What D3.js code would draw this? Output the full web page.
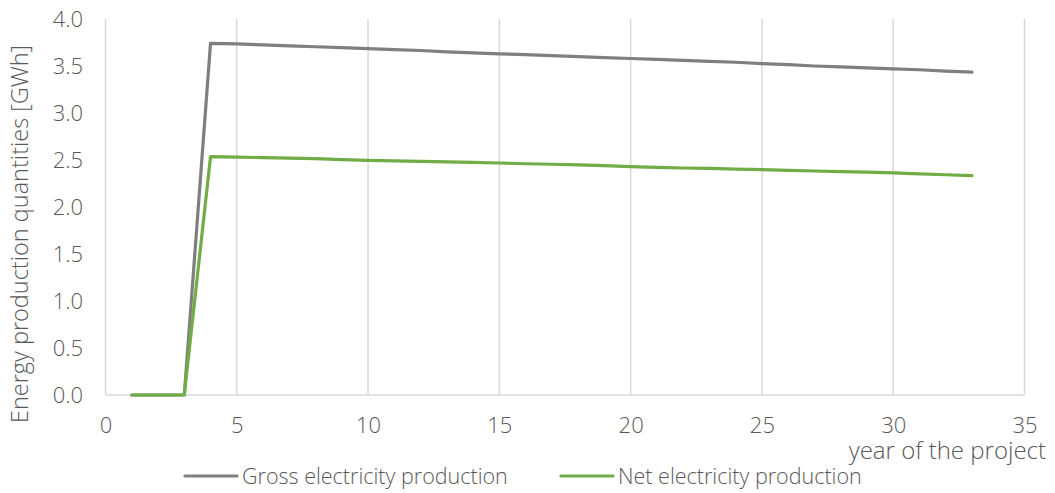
<!DOCTYPE html>
<html>
<head>
<meta charset="utf-8">
<script src="https://cdn.jsdelivr.net/npm/d3@7"></script>
<style>
  html, body { margin: 0; padding: 0; background: #fff; }
  svg text { font-family: "Open Sans", "Noto Sans", sans-serif; font-weight: 300; fill: #595959; }
</style>
</head>
<body>
<svg id="chart" width="1055" height="493"></svg>
<script>
const years = [1,2,3,4,5,6,7,8,9,10,11,12,13,14,15,16,17,18,19,20,21,22,23,24,25,26,27,28,29,30,31,32,33];
const gross = [0,0,0,3.74,3.735,3.725,3.715,3.705,3.695,3.685,3.675,3.665,3.65,3.64,3.63,3.62,3.61,3.60,3.59,3.58,3.57,3.56,3.55,3.54,3.525,3.515,3.50,3.49,3.48,3.47,3.46,3.445,3.435];
const net = [0,0,0,2.535,2.53,2.525,2.52,2.515,2.505,2.497,2.49,2.485,2.48,2.475,2.468,2.46,2.455,2.448,2.44,2.43,2.422,2.415,2.41,2.403,2.397,2.39,2.383,2.376,2.37,2.362,2.352,2.343,2.333];
const xTicks = [0,5,10,15,20,25,30,35];
const yTicks = [0,0.5,1.0,1.5,2.0,2.5,3.0,3.5,4.0];
const seriesNames = ["Gross electricity production", "Net electricity production"];
const seriesColors = ["#7f7f7f", "#70ad47"];

const svg = d3.select("#chart");
const x = d3.scaleLinear().domain([0, 35]).range([105.5, 1024.5]);
const y = d3.scaleLinear().domain([0, 4]).range([395, 19]);

// vertical gridlines
svg.append("g").selectAll("line").data(xTicks).join("line")
  .attr("x1", d => x(d)).attr("x2", d => x(d))
  .attr("y1", y(4)).attr("y2", y(0))
  .attr("stroke", "#d9d9d9").attr("stroke-width", 1.5);

// bottom axis line
svg.append("line").attr("x1", x(0)).attr("x2", x(35)).attr("y1", y(0)).attr("y2", y(0))
  .attr("stroke", "#d9d9d9").attr("stroke-width", 1.5);

// x axis tick labels
const xAxis = d3.axisBottom(x).tickValues(xTicks).tickSize(0).tickPadding(0).tickFormat(d3.format("d"));
const gx = svg.append("g").attr("transform", `translate(0,${y(0)})`).call(xAxis);
gx.select(".domain").remove();
gx.selectAll("text").attr("dy", null).attr("y", 38).style("font-size", "22px").attr("fill", "#595959");

// y axis tick labels
const yAxis = d3.axisLeft(y).tickValues(yTicks).tickSize(0).tickPadding(0).tickFormat(d3.format(".1f"));
const gy = svg.append("g").attr("transform", `translate(83,0)`).call(yAxis);
gy.select(".domain").remove();
gy.selectAll("text").attr("x", 0).attr("dy", "0.35em").style("font-size", "22px").attr("fill", "#595959");

// lines
const line = d3.line().x((d, i) => x(years[i])).y(d => y(d));
[gross, net].forEach((s, k) => {
  svg.append("path").datum(s).attr("d", line)
    .attr("fill", "none").attr("stroke", seriesColors[k]).attr("stroke-width", 3.2)
    .attr("stroke-linejoin", "round").attr("stroke-linecap", "round");
});

// y title
svg.append("text").attr("transform", `translate(28,234) rotate(-90)`)
  .attr("text-anchor", "middle").style("font-size", "23.5px")
  .text("Energy production quantities [GWh]");

// x title
svg.append("text").attr("x", 1046).attr("y", 459).attr("text-anchor", "end")
  .style("font-size", "24px").text("year of the project");

// legend
const legX = [185, 561];
seriesNames.forEach((n, k) => {
  svg.append("line").attr("x1", legX[k]).attr("x2", legX[k] + 52).attr("y1", 476).attr("y2", 476)
    .attr("stroke", seriesColors[k]).attr("stroke-width", 3.2).attr("stroke-linecap", "round");
  svg.append("text").attr("x", legX[k] + 57).attr("y", 476).attr("dy", "0.35em")
    .style("font-size", "21.5px").text(n);
});
</script>
</body>
</html>
